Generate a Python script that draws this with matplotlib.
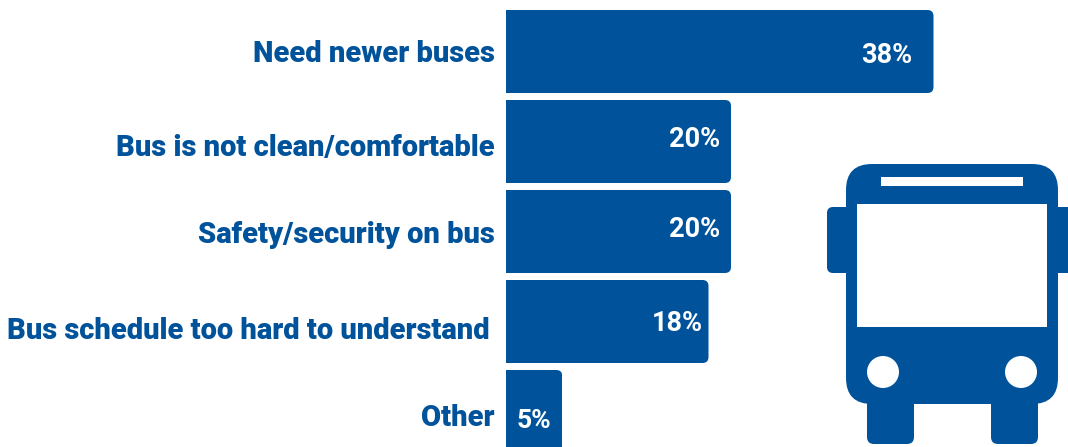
import matplotlib
matplotlib.use("Agg")
import matplotlib.pyplot as plt
from matplotlib.patches import FancyBboxPatch, Rectangle, Circle

BLUE = "#00539b"

categories = ["Need newer buses", "Bus is not clean/comfortable", "Safety/security on bus",
              "Bus schedule too hard to understand", "Other"]
values = [38, 20, 20, 18, 5]
value_labels = ["38%", "20%", "20%", "18%", "5%"]

W, H = 1068, 447
plt.rcParams["font.family"] = ["Roboto", "DejaVu Sans"]

fig = plt.figure(figsize=(W / 100, H / 100), dpi=100)

# bars axes: x in percent, y in category slots
px_per_pct = 11.25
x0 = 506
slot = 90
top = 10
ax = fig.add_axes([x0 / W, 0, (W - x0) / W, 1])
ax.set_xlim(0, (W - x0) / px_per_pct)
ax.set_ylim((H - top) / slot, -top / slot)
ax.axis("off")

bar_h = 83 / slot
# small per-row nudges, the labels in the reference are not quite centred
cat_dy = [0.023, 0.068, 0.038, 0.103, 0.07]
cat_dx = [0, 0, 0, 0.45, 0]
val_dy = [0.04, -0.025, -0.02, 0.025, 0.10]
val_dx = [1.87, 0.98, 0.98, 0.53, 0]

r_x = 6 / px_per_pct
aspect = (6 / slot) / r_x

for i, (v, lab, cat) in enumerate(zip(values, value_labels, categories)):
    bars = ax.barh(i + bar_h / 2, v, height=bar_h, color=BLUE, linewidth=0)
    # round only the right corners: clip with a box that overshoots on the left
    clip = FancyBboxPatch((-2, i), v + 2, bar_h, boxstyle=f"round,pad=0,rounding_size={r_x}",
                          mutation_aspect=aspect, transform=ax.transData, fc="none", ec="none")
    ax.add_patch(clip)
    bars[0].set_clip_path(clip)
    if v > 5:
        ax.text(v - val_dx[i], i + bar_h / 2 + val_dy[i], lab, color="white", fontsize=19.5,
                fontweight="bold", ha="right", va="center")
    else:
        ax.text(v / 2 - 0.02, i + bar_h / 2 + val_dy[i], lab, color="white", fontsize=19,
                fontweight="bold", ha="center", va="center")
    ax.text(-1 - cat_dx[i], i + bar_h / 2 + cat_dy[i], cat, color=BLUE, fontsize=21,
            fontweight="black", ha="right", va="center", clip_on=False)

# bus icon in pixel coords
icon = fig.add_axes([0, 0, 1, 1])
icon.set_xlim(0, W)
icon.set_ylim(H, 0)
icon.axis("off")
icon.patch.set_alpha(0)


def rrect(x, y, w, h, r, color=BLUE):
    icon.add_patch(FancyBboxPatch((x + r, y + r), w - 2 * r, h - 2 * r,
                                  boxstyle=f"round,pad={r},rounding_size={r}",
                                  fc=color, ec="none"))


rrect(846, 164, 212, 240, 26)
rrect(827, 207, 24, 66, 6)
rrect(1050, 207, 30, 66, 6)
rrect(867, 390, 47, 54, 7)
rrect(991, 390, 47, 54, 7)
icon.add_patch(Rectangle((857, 204), 190, 123, fc="white", ec="none"))
icon.add_patch(Rectangle((881, 177), 142, 9, fc="white", ec="none"))
icon.add_patch(Circle((883, 372), 16, fc="white", ec="none"))
icon.add_patch(Circle((1021, 372), 16, fc="white", ec="none"))

fig.savefig("out.png", dpi=100)
